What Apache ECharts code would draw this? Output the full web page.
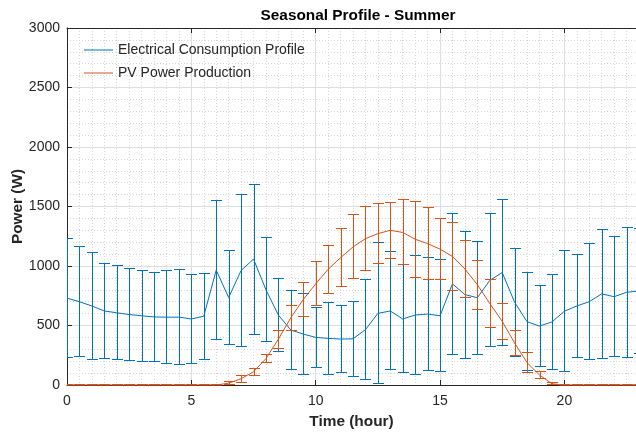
<!DOCTYPE html>
<html>
<head>
<meta charset="utf-8">
<script src="https://cdn.jsdelivr.net/npm/echarts@6/dist/echarts.min.js"></script>
<style>
html,body{margin:0;padding:0;background:#fff;}
#c{width:636px;height:434px;}
</style>
</head>
<body>
<div id="c"></div>
<script>
const hours = [0,0.5,1,1.5,2,2.5,3,3.5,4,4.5,5,5.5,6,6.5,7,7.5,8,8.5,9,9.5,10,10.5,11,11.5,12,12.5,13,13.5,14,14.5,15,15.5,16,16.5,17,17.5,18,18.5,19,19.5,20,20.5,21,21.5,22,22.5,23];
const consMean = [730,700,664,622,607,592,582,572,570,570,555,578,965,735,962,1058,800,588,462,428,400,392,386,388,465,602,622,555,588,596,582,850,760,733,879,945,695,532,495,530,620,664,700,766,742,779,790];
const consErr  = [505,465,455,402,398,388,387,381,395,402,377,366,590,398,640,635,440,310,340,345,255,305,283,320,425,596,500,458,505,480,475,598,538,480,563,614,460,414,347,403,514,440,494,548,510,551,530];
const pvMean   = [0,0,0,0,0,0,0,0,0,0,0,0,0,15,53,111,222,385,565,718,850,972,1070,1160,1230,1272,1300,1282,1225,1188,1142,1080,975,843,685,535,353,188,84,10,0,0,0,0,0,0,0];
const pvErr    = [0,0,0,0,0,0,0,0,0,0,0,0,0,15,32,35,40,80,110,144,190,205,249,273,271,255,240,277,323,305,262,290,240,210,203,154,112,88,31,12,0,0,0,0,0,0,0];
const xTicks = [0,5,10,15,20];
const yTicks = [0,500,1000,1500,2000,2500,3000];
const seriesNames = ['Electrical Consumption Profile','PV Power Production'];
const titleText = 'Seasonal Profile - Summer';
const xName = 'Time (hour)';
const yName = 'Power (W)';

const BLUE = '#0072BD', ORANGE = '#D95319', AX = '#262626';

function lineData(m){ return hours.map((h,i)=>[h,m[i]]); }
function barData(m,e){ return hours.map((h,i)=>[h,m[i],e[i]]); }

function makeRender(color){
  return function(params, api){
    const x = api.value(0), m = api.value(1), e = api.value(2);
    const cs = params.coordSys;
    const p1 = api.coord([x, m+e]);
    const p2 = api.coord([x, m-e]);
    const yMin = cs.y, yMax = cs.y + cs.height;
    const xMin = cs.x, xMax = cs.x + cs.width;
    const cx = Math.round(p1[0]) + 0.5;
    const yt = Math.max(yMin, Math.min(yMax, Math.round(p1[1]) + 0.5));
    const yb = Math.max(yMin, Math.min(yMax, Math.round(p2[1]) - 0.5));
    const hw = 5.5;
    const l = Math.max(xMin, cx - hw), r = Math.min(xMax, cx + hw);
    const st = {stroke: color, lineWidth: 1, fill: null};
    return {type:'group', children:[
      {type:'line', shape:{x1:cx,y1:yt,x2:cx,y2:yb}, style:st},
      {type:'line', shape:{x1:l,y1:yt,x2:r,y2:yt}, style:st},
      {type:'line', shape:{x1:l,y1:yb,x2:r,y2:yb}, style:st}
    ]};
  };
}

const chart = echarts.init(document.getElementById('c'), null, {renderer:'canvas'});
const txtFont = 'Liberation Sans, Arial, Helvetica, sans-serif';
const XMAX = 22.88;
const gridLine = {color: '#dedede', width: 1};
const minorLine = {color: '#d6d6d6', width: 1, type: [1,2]};
chart.setOption({
  animation: false,
  backgroundColor: '#fff',
  textStyle: {fontFamily: txtFont},
  title: {
    text: titleText, left: 353, top: 3, textAlign: 'center',
    textStyle: {fontSize: 15.4, fontWeight: 'bold', color: '#000', fontFamily: txtFont}
  },
  legend: {
    data: seriesNames.map(n=>({name:n, icon:'rect'})),
    orient: 'vertical', left: 84, top: 43, itemWidth: 29, itemHeight: 1, itemGap: 9,
    textStyle: {fontSize: 14, color: AX, fontFamily: txtFont, lineHeight: 14},
    backgroundColor: 'transparent', borderWidth: 0, padding: 0
  },
  grid: {left: 67, right: 0, top: 28, bottom: 49, containLabel: false, outerBoundsMode: 'none'},
  xAxis: [{
    type: 'value', min: 0, max: XMAX, interval: 5, position: 'bottom',
    name: xName, nameLocation: 'middle', nameGap: 29,
    nameTextStyle: {fontSize: 15.4, fontWeight: 'bold', color: AX, fontFamily: txtFont},
    axisLine: {show: true, onZero: false, lineStyle: {color: AX, width: 1}},
    axisTick: {show: true, inside: true, length: 5, lineStyle: {color: AX}},
    axisLabel: {fontSize: 14, color: AX, margin: 9, showMaxLabel: false,
      formatter: v => xTicks.indexOf(v) >= 0 ? String(v) : ''},
    splitLine: {show: true, lineStyle: gridLine},
    minorTick: {show: false, splitNumber: 10},
    minorSplitLine: {show: true, lineStyle: minorLine}
  },{
    type: 'value', min: 0, max: XMAX, interval: 5, position: 'top',
    axisLine: {show: true, onZero: false, lineStyle: {color: AX, width: 1}},
    axisTick: {show: true, inside: true, length: 5, lineStyle: {color: AX}},
    axisLabel: {show: false}, splitLine: {show: false}
  }],
  yAxis: [{
    type: 'value', min: 0, max: 3000, interval: 500,
    name: yName, nameLocation: 'middle', nameGap: 42, nameMoveOverlap: false,
    nameTextStyle: {fontSize: 15.4, fontWeight: 'bold', color: AX, fontFamily: txtFont},
    axisLine: {show: true, onZero: false, lineStyle: {color: AX, width: 1}},
    axisTick: {show: true, inside: true, length: 5, lineStyle: {color: AX}},
    axisLabel: {fontSize: 14, color: AX, margin: 7,
      formatter: v => yTicks.indexOf(v) >= 0 ? String(v) : ''},
    splitLine: {show: true, lineStyle: gridLine},
    minorTick: {show: false, splitNumber: 5},
    minorSplitLine: {show: true, lineStyle: minorLine}
  }],
  series: [
    {name: seriesNames[0], type: 'line', data: lineData(consMean), symbol: 'none',
     lineStyle: {color: BLUE, width: 1}, itemStyle: {color: BLUE}, z: 2},
    {name: 'consBars', type: 'custom', data: barData(consMean, consErr),
     renderItem: makeRender(BLUE), encode: {x: 0, y: [1]}, z: 2},
    {name: seriesNames[1], type: 'line', data: lineData(pvMean), symbol: 'none',
     lineStyle: {color: ORANGE, width: 1}, itemStyle: {color: ORANGE}, z: 3},
    {name: 'pvBars', type: 'custom', data: barData(pvMean, pvErr),
     renderItem: makeRender(ORANGE), encode: {x: 0, y: [1]}, z: 3}
  ]
});
</script>
</body>
</html>
